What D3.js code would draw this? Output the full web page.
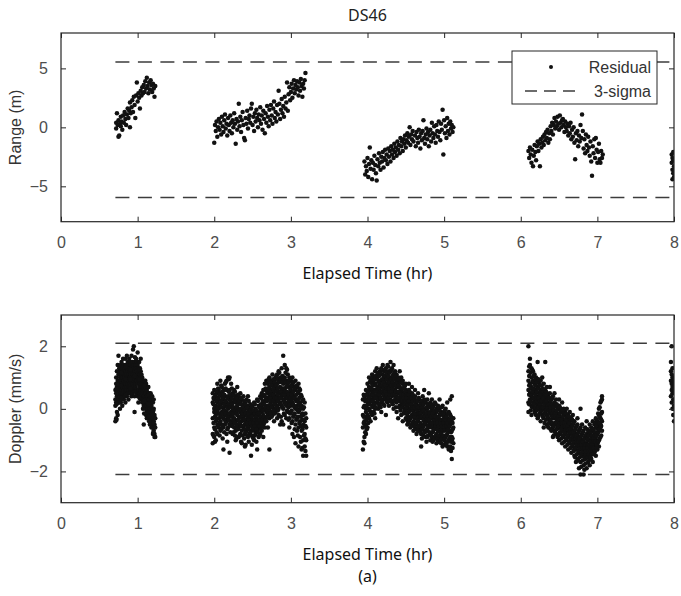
<!DOCTYPE html>
<html><head><meta charset="utf-8">
<script src="https://cdn.jsdelivr.net/npm/d3@7"></script>
<style>
html,body{margin:0;padding:0;background:#fff;}
svg{display:block;}
</style></head>
<body><svg id="chart" width="681" height="596"></svg>
<script>
// ---------------- DATA ----------------
const chartTitle = "DS46";
const xLabel = "Elapsed Time (hr)";
const rangeLabel = "Range (m)";
const dopplerLabel = "Doppler (mm/s)";
const figureTag = "(a)";
const xTicks = [0,1,2,3,4,5,6,7,8];
const rangeTicks = [-5,0,5];
const dopplerTicks = [-2,0,2];
const xDomain = [0,8];
const rangeDomain = [-8,8];
const dopplerDomain = [-3,3];
const legendLabels = ["Residual","3-sigma"];
// 3-sigma bounds: [start time, end time, upper, lower]
const rangeSigma = [0.71, 8, 5.55, -5.95];
const dopplerSigma = [0.71, 8, 2.1, -2.1];

// Range residuals: rows of [time (hr), value(s)...]
const rangePass1 = [[0.72,0.4,-0.1],[0.73,1.2],[0.74,0.2],[0.75,0.6,-0.8],[0.76,-0.7],[0.77,0.3],[0.78,0.9,0.1],[0.79,0.5],[0.80,-0.2],[0.81,1.0],[0.82,0.4],[0.83,1.3],[0.84,0.7],[0.85,0.2],[0.86,1.1],[0.87,1.6],[0.88,0.8],[0.89,1.4],[0.90,2.1,0.0],[0.91,1.2],[0.92,1.7],[0.93,2.3],[0.94,1.3],[0.95,2.6],[0.96,1.9],[0.97,0.8],[0.98,2.7],[0.99,3.8],[1.00,2.2],[1.01,2.9],[1.02,2.5],[1.03,1.6],[1.04,3.1],[1.05,2.7],[1.06,3.4],[1.07,2.9],[1.08,3.6],[1.09,3.0],[1.10,3.9],[1.11,3.3],[1.12,4.2],[1.13,3.5],[1.14,2.9],[1.15,3.8],[1.16,3.2],[1.17,4.0],[1.18,3.6],[1.19,3.0],[1.20,3.7],[1.21,3.3],[1.22,2.6],[1.23,3.5]];
const rangePass2 = [[2.00,-1.3],[2.01,0.2],[2.02,-0.3],[2.03,0.5],[2.04,-0.8],[2.05,0.0],[2.06,0.7],[2.07,-0.2],[2.08,0.4],[2.09,-0.6],[2.10,0.9],[2.11,0.1],[2.12,-0.4],[2.13,0.6],[2.14,1.1],[2.15,-0.1],[2.16,0.3],[2.17,-0.7],[2.18,0.8],[2.19,0.2],[2.20,-0.3],[2.21,1.0],[2.22,0.4],[2.23,-0.5],[2.24,0.6],[2.25,0.0],[2.26,1.2],[2.27,0.3],[2.28,-1.4],[2.29,0.7],[2.30,-0.2],[2.31,0.5],[2.32,2.0],[2.33,0.1],[2.34,0.9],[2.35,-0.4],[2.36,0.6],[2.37,1.3],[2.38,0.2],[2.39,-0.9],[2.40,-1.1],[2.41,0.8],[2.42,0.3],[2.43,1.4],[2.44,-0.1],[2.45,0.7],[2.46,1.0],[2.47,0.4],[2.48,1.6],[2.49,2.0],[2.50,0.2],[2.51,0.9],[2.52,-0.3],[2.53,1.2],[2.54,0.5],[2.55,1.5],[2.56,0.8],[2.57,0.0],[2.58,1.1],[2.59,0.6],[2.60,1.7],[2.61,0.3],[2.62,1.0],[2.63,-0.2],[2.64,1.4],[2.65,0.7],[2.66,-0.5],[2.67,1.2],[2.68,0.4],[2.69,1.8],[2.70,0.9],[2.71,0.1],[2.72,1.5],[2.73,0.6],[2.74,1.9],[2.75,1.0],[2.76,0.3],[2.77,1.6],[2.78,2.2],[2.79,0.8],[2.80,1.3],[2.81,0.5],[2.82,1.9],[2.83,1.1],[2.84,3.1],[2.85,2.0],[2.86,0.7],[2.87,1.5],[2.88,2.4],[2.89,1.2],[2.90,1.8],[2.91,0.9],[2.92,2.6],[2.93,1.6],[2.94,2.1],[2.95,3.8],[2.96,1.4],[2.97,2.8],[2.98,3.4],[2.99,2.3],[3.00,3.0],[3.01,3.7],[3.02,2.5],[3.03,3.3],[3.04,4.0],[3.05,2.9],[3.06,3.6],[3.07,3.2],[3.08,3.9],[3.09,3.4],[3.10,2.7],[3.11,3.8],[3.12,3.1],[3.13,4.1],[3.14,3.5],[3.15,2.6],[3.16,3.7],[3.17,3.3],[3.18,4.0],[3.19,4.6]];
const rangePass3 = [[3.96,-2.9],[3.97,-4.0],[3.98,-3.3],[3.99,-3.7],[4.00,-2.6],[4.01,-4.2],[4.02,-3.1],[4.03,-1.7],[4.04,-3.5],[4.05,-2.8],[4.06,-4.4],[4.07,-3.0],[4.08,-3.6],[4.09,-2.4],[4.10,-3.2],[4.11,-3.9],[4.12,-4.5],[4.13,-2.7],[4.14,-3.3],[4.15,-2.2],[4.16,-3.0],[4.17,-3.6],[4.18,-2.5],[4.19,-2.9],[4.20,-2.1],[4.21,-3.4],[4.22,-2.6],[4.23,-1.9],[4.24,-2.8],[4.25,-2.3],[4.26,-3.1],[4.27,-1.8],[4.28,-2.5],[4.29,-2.0],[4.30,-2.9],[4.31,-1.6],[4.32,-2.3],[4.33,-1.9],[4.34,-2.6],[4.35,-1.4],[4.36,-2.1],[4.37,-1.7],[4.38,-2.4],[4.39,-1.2],[4.40,-1.9],[4.41,-1.5],[4.42,-2.2],[4.43,-0.9],[4.44,-1.6],[4.45,-1.2],[4.46,-2.0],[4.47,-1.0],[4.48,-1.4],[4.49,-0.7],[4.50,-1.7],[4.51,-1.1],[4.52,-0.5],[4.53,-1.3],[4.54,-0.8],[4.55,0.0],[4.56,-1.5],[4.57,-0.6],[4.58,-1.0],[4.59,-0.3],[4.60,-1.2],[4.62,-0.7],[4.63,-1.6],[4.64,-0.4],[4.65,-0.9],[4.66,-1.3],[4.67,-0.2],[4.68,-0.8],[4.69,-1.8],[4.70,-0.5],[4.71,-1.1],[4.72,-0.3],[4.73,0.6],[4.74,-0.9],[4.75,-1.4],[4.76,-0.6],[4.77,-0.1],[4.78,-1.0],[4.79,-0.4],[4.80,-1.6],[4.81,-0.7],[4.82,-0.2],[4.83,-1.2],[4.84,0.4],[4.85,-0.5],[4.86,-0.9],[4.87,0.1],[4.88,-0.6],[4.89,-1.3],[4.90,0.2],[4.91,-0.3],[4.92,-0.8],[4.93,0.5],[4.94,-0.4],[4.95,-1.1],[4.96,0.3],[4.97,-0.2],[4.98,1.5],[4.99,-2.3],[5.00,0.6],[5.01,-0.5],[5.02,0.1],[5.03,-0.9],[5.04,0.8],[5.05,-0.3],[5.06,0.3],[5.07,-0.6],[5.08,0.5],[5.09,-0.1],[5.10,0.2],[5.11,-0.4],[5.12,0.0]];
const rangePass4 = [[6.10,-2.0],[6.11,-2.6],[6.12,-1.7],[6.13,-2.3],[6.14,-3.0],[6.15,-1.9],[6.16,-3.3],[6.17,-2.4],[6.18,-1.5],[6.19,-2.1],[6.20,-2.8],[6.21,-1.6],[6.22,-1.2],[6.23,-2.0],[6.24,-1.4],[6.25,-3.3],[6.26,-1.0],[6.27,-1.7],[6.28,-1.3],[6.29,-0.8],[6.30,-1.5],[6.31,-0.6],[6.32,-1.1],[6.33,-0.4],[6.34,-0.9],[6.35,-0.2],[6.36,-1.3],[6.37,-0.5],[6.38,-1.0],[6.39,0.1],[6.40,-0.3],[6.41,0.4],[6.42,-0.6],[6.43,0.2],[6.44,0.8],[6.45,-0.1],[6.46,0.5],[6.47,0.1],[6.48,0.9],[6.49,0.3],[6.50,-0.2],[6.51,1.0],[6.52,0.4],[6.53,0.0],[6.54,0.6],[6.55,0.7],[6.56,0.2],[6.57,-0.4],[6.58,0.5],[6.59,0.0],[6.60,-0.3],[6.61,0.3],[6.62,-0.7],[6.63,0.1],[6.64,-0.5],[6.65,0.4],[6.66,-1.0],[6.67,-0.2],[6.68,-0.8],[6.69,0.0],[6.70,-1.3],[6.71,-2.7],[6.72,-0.5],[6.73,-1.1],[6.74,-0.3],[6.75,-1.6],[6.76,-0.7],[6.77,-1.2],[6.78,0.2],[6.79,-0.9],[6.80,1.1],[6.81,-0.3],[6.82,-1.8],[6.83,-1.0],[6.84,-2.2],[6.85,-0.6],[6.86,-1.5],[6.87,-2.0],[6.88,-0.8],[6.89,-1.7],[6.90,-2.4],[6.91,-1.2],[6.92,-2.9],[6.93,-4.1],[6.94,-1.6],[6.95,-2.2],[6.96,-1.0],[6.97,-2.6],[6.98,-0.9],[6.99,-1.9],[7.00,-3.0],[7.01,-2.1],[7.02,-1.4],[7.03,-2.7],[7.04,-3.0],[7.05,-2.0],[7.06,-2.6],[7.07,-2.3]];
const rangePass5 = [[7.97,-2.3,-3.0],[7.98,-2.6,-3.6,-4.4],[7.99,-2.1,-3.9,-2.8],[8.00,-3.3,-4.2]];

// Doppler residuals: rows of [time (hr), values...]
const dopplerPass1 = [[0.71,0.3,-0.4,0.6,0.1],[0.72,0.5,-0.3,0.8,0.2,1.0],[0.73,0.4,0.7,-0.1,1.2],[0.74,0.6,0.2,0.9,-0.2,1.4],[0.75,0.8,0.3,1.1,1.7,0.5],[0.76,0.2,0.9,0.6,1.3],[0.77,0.7,1.0,0.4,0.0,1.2],[0.78,0.9,0.5,1.4,0.2],[0.79,0.6,1.1,0.3,0.8,1.5],[0.80,1.0,0.4,0.7,1.3,0.1],[0.81,0.8,1.2,0.5,1.6],[0.82,0.3,0.9,1.1,0.6,1.4],[0.83,1.0,0.7,1.3,0.4],[0.84,0.5,1.2,0.8,1.6,0.2],[0.85,0.9,1.4,0.6,1.1],[0.86,1.3,0.7,1.0,0.4,1.7],[0.87,0.8,1.2,0.5,1.5],[0.88,1.1,0.6,1.4,0.9,0.3],[0.89,0.7,1.3,1.0,1.6],[0.90,1.2,0.8,0.5,1.5,1.0],[0.91,0.9,1.4,0.6,1.1],[0.92,1.3,0.4,1.0,1.7,0.7],[0.93,0.8,1.2,1.5,0.5],[0.94,1.1,0.7,1.4,0.9,1.9],[0.95,0.6,1.3,1.0,2.0],[0.96,1.2,0.9,1.5,0.4,-0.1],[0.97,0.7,1.1,1.4,0.8],[0.98,1.0,0.6,1.3,1.6,0.9],[0.99,1.2,0.5,0.9,1.5],[1.00,0.8,1.1,0.4,1.4,1.8],[1.01,1.0,0.6,1.3,0.2],[1.02,0.7,1.2,0.9,0.4,1.5],[1.03,1.1,0.5,0.8,1.3],[1.04,0.6,1.0,0.3,1.2,1.6],[1.05,0.9,0.4,0.7,1.1],[1.06,0.5,0.8,0.2,1.0,0.6],[1.07,0.7,0.3,0.9,0.0],[1.08,0.4,0.8,0.1,0.6,-0.5],[1.09,0.6,0.2,0.9,0.4],[1.10,0.3,0.7,0.0,0.5,0.9],[1.11,0.5,0.1,0.8,-0.2],[1.12,0.2,0.6,-0.1,0.4,-0.3],[1.13,0.4,0.0,0.7,0.2],[1.14,0.1,0.5,-0.3,0.3,0.7],[1.15,0.3,-0.1,0.5,-0.4],[1.16,0.0,0.4,-0.2,0.2,-0.5],[1.17,0.2,-0.3,0.5,-0.1],[1.18,-0.1,0.3,-0.4,0.1,-0.6],[1.19,0.0,-0.5,0.4,-0.2],[1.20,-0.3,0.2,-0.6,-0.1,-0.8],[1.21,-0.4,0.0,-0.7,0.3],[1.22,-0.5,-0.2,-0.8,-0.9],[1.23,-0.6,-0.3,-0.9],
  [0.725,0.15,0.65,-0.35],[0.785,0.35,1.15,0.75],[0.845,0.95,0.45,1.35],[0.905,0.65,1.25,0.95],[0.965,1.05,0.55,1.65],[1.025,0.95,0.35,1.25],[1.085,0.25,0.75,-0.15],[1.145,0.15,-0.25,0.45],[1.205,-0.45,-0.05,-0.75]];
const dopplerPass2 = [[1.98,-0.3,0.2,-0.8,-1.1,0.5],[2.00,-0.1,-0.6,0.3,-0.9,0.0,0.6],[2.02,-0.4,0.1,-0.2,0.4,-1.0],[2.04,0.2,-0.5,-0.1,0.5,-0.8,0.8],[2.06,-0.3,0.3,-0.6,0.0,0.6],[2.08,0.1,-0.4,0.5,-0.2,-0.7,0.9],[2.10,-0.1,0.4,-0.5,0.2,0.7],[2.12,0.0,-0.3,0.6,-1.3,0.3,-0.6],[2.14,0.4,-0.2,0.1,0.8,-0.5],[2.16,-0.4,0.2,0.6,-0.1,0.9,-0.8],[2.18,0.0,1.0,-0.3,0.4,-0.6],[2.20,0.3,-0.2,-1.4,0.6,-0.5,1.0],[2.22,-0.1,0.4,-0.4,0.1,0.8],[2.24,0.2,-0.5,0.5,-0.2,-0.8,0.0],[2.26,-0.3,0.3,-0.1,0.6,-0.6],[2.28,0.0,-0.4,0.4,-0.7,0.2,-1.0],[2.30,-0.2,0.3,-0.5,0.1,0.7],[2.32,-0.6,0.0,-0.3,0.4,-0.9,0.2],[2.34,-0.1,-0.5,0.2,-0.8,0.5],[2.36,-0.4,0.0,-0.7,0.3,-0.2,-1.1],[2.38,-0.3,0.1,-0.6,-0.1,0.4],[2.40,-0.5,-0.2,0.2,-0.8,0.0,-1.2],[2.42,-0.4,0.1,-0.7,-0.2,0.3],[2.44,-0.6,-0.3,0.0,-0.9,-0.1,0.4],[2.46,-0.5,-0.2,-0.8,0.1,-0.4],[2.48,-0.3,-0.7,0.0,-0.5,-1.5,-0.1],[2.50,-0.6,-0.2,-0.9,0.1,-0.4],[2.52,-0.4,-0.7,-0.1,-0.5,0.2,-1.0],[2.54,-0.3,-0.6,0.0,-0.8,-0.2],[2.56,-0.5,-0.1,-0.7,0.3,-0.4,-1.3],[2.58,-0.2,-0.6,0.1,-0.4,-0.9],[2.60,-0.3,0.0,-0.6,0.4,-0.1,-0.8],[2.62,0.1,-0.4,-0.1,0.5,-0.7],[2.64,-0.2,0.2,-0.5,0.6,0.0,-0.9],[2.66,0.0,-0.3,0.4,-0.6,0.8],[2.68,0.3,-0.1,0.6,-0.4,0.1,0.9],[2.70,0.1,0.5,-0.2,0.8,-0.6],[2.72,0.4,0.0,0.7,-0.3,1.0,-1.3],[2.74,0.2,0.6,-0.1,0.9,0.3],[2.76,0.5,0.1,0.8,-0.2,0.4,1.1],[2.78,0.3,0.7,0.0,0.9,-0.4],[2.80,0.6,0.2,1.0,-0.1,0.4,0.8],[2.82,0.4,0.8,0.1,1.1,-0.3],[2.84,0.5,0.0,0.9,0.3,1.2,-0.2],[2.86,0.7,0.2,1.0,-0.5,0.5],[2.88,0.4,0.9,0.1,1.3,0.6,-0.4],[2.90,0.3,0.8,1.7,0.0,0.5,-0.5],[2.92,0.6,0.2,1.0,-0.2,1.4],[2.94,0.4,0.9,0.1,0.7,1.3,-0.3],[2.96,0.5,-0.1,0.8,0.2,1.1],[2.98,0.3,0.7,-0.3,1.0,0.5,-0.6],[3.00,0.6,0.1,0.9,-0.1,0.4],[3.02,0.2,0.8,-0.4,0.5,1.0,-0.8],[3.04,0.4,-0.2,0.7,0.1,-0.9],[3.06,0.0,0.6,-0.5,0.3,0.9,-1.1],[3.08,0.3,-0.3,0.7,0.1,-0.7],[3.10,-0.1,0.5,-0.6,0.2,0.8,-1.2],[3.12,0.2,-0.4,0.6,-0.9,0.0],[3.14,-0.2,0.4,-0.7,0.1,-1.3],[3.16,0.0,-0.5,0.3,-1.0,-0.2,-1.5],[3.18,-0.4,0.2,-0.8,-1.2],[3.20,-0.6,-1.0,-1.5,-0.3],
  [1.99,-0.45,0.15,-0.85,0.35],[2.01,-0.25,0.45,-0.65,0.05,-1.05],[2.03,0.25,-0.35,0.55,-0.75,-0.05],[2.05,-0.15,0.35,-0.55,0.65,0.05],[2.07,0.15,-0.45,0.45,-0.85,-0.15],[2.09,-0.25,0.25,-0.65,0.75,0.05],[2.11,0.35,-0.15,-0.55,0.55,-0.95],[2.13,-0.05,0.45,-0.35,0.15,-0.75],[2.15,0.25,-0.45,0.65,-0.15,0.85],[2.17,-0.25,0.35,-0.65,0.05,-1.05],[2.19,0.15,-0.35,0.55,-0.15,0.95],[2.21,-0.45,0.05,0.45,-0.75,0.25],[2.23,0.35,-0.25,-0.55,0.15,0.65],[2.25,-0.35,0.05,-0.75,0.45,-0.15],[2.27,0.25,-0.45,-0.05,-0.85,0.55],[2.29,-0.15,0.35,-0.55,0.05,-0.95],[2.31,-0.35,0.15,-0.65,0.45,-0.05],[2.33,-0.45,-0.05,0.25,-0.85,-0.25],[2.35,-0.25,0.15,-0.55,-1.05,0.35],[2.37,-0.55,-0.15,0.05,-0.85,-0.35],[2.39,-0.35,0.25,-0.65,-0.05,-0.95],[2.41,-0.45,-0.15,0.15,-0.75,-1.15],[2.43,-0.55,-0.25,0.05,-0.85,-0.45],[2.45,-0.35,-0.65,0.25,-0.15,-1.05],[2.47,-0.45,-0.05,-0.75,-0.25,0.15],[2.49,-0.55,-0.25,-0.85,0.05,-1.15],[2.51,-0.35,-0.65,-0.05,-0.45,-0.95],[2.53,-0.55,-0.15,-0.85,0.15,-0.35],[2.55,-0.25,-0.65,-0.05,-0.45,-1.05],[2.57,-0.45,-0.15,-0.75,0.25,-0.35],[2.59,-0.15,-0.55,0.05,-0.35,-0.85],[2.61,-0.25,0.15,-0.45,0.35,-0.65],[2.63,-0.05,-0.35,0.25,-0.55,0.45],[2.65,0.15,-0.25,0.45,-0.45,-0.05],[2.67,0.05,0.35,-0.35,0.65,0.25],[2.69,0.25,-0.05,0.55,-0.25,0.85],[2.71,0.35,0.05,0.65,-0.15,0.95],[2.73,0.15,0.55,-0.15,0.85,0.35],[2.75,0.45,0.05,0.75,0.25,-0.25],[2.77,0.25,0.65,-0.05,0.95,0.45],[2.79,0.55,0.15,0.85,0.35,-0.15],[2.81,0.35,0.75,0.05,1.05,0.55],[2.83,0.65,0.25,0.95,-0.05,0.45],[2.85,0.35,0.85,0.15,1.15,0.55],[2.87,0.55,0.15,0.95,0.35,-0.25],[2.89,0.45,0.85,0.05,1.05,0.65],[2.91,0.25,0.65,-0.15,0.95,0.45],[2.93,0.55,0.15,0.85,0.35,1.15],[2.95,0.35,0.75,-0.05,0.55,1.25],[2.97,0.45,0.05,0.85,0.25,-0.35],[2.99,0.15,0.65,0.35,0.95,-0.15],[3.01,0.45,-0.05,0.75,0.25,-0.45],[3.03,0.15,0.55,-0.25,0.85,0.35],[3.05,0.35,-0.15,0.65,0.05,-0.65],[3.07,0.05,0.45,-0.35,0.75,0.25],[3.09,0.25,-0.25,0.55,-0.05,-0.85],[3.11,-0.05,0.35,-0.45,0.15,0.65],[3.13,0.05,-0.55,0.45,-0.25,-1.05],[3.15,-0.15,0.25,-0.65,-0.35,-1.25],[3.17,-0.35,0.05,-0.85,-0.55],[3.19,-0.55,-0.95,-0.15,-1.35]];
const dopplerPass3 = [[3.94,-0.6,-1.3,-0.2,0.3],[3.96,-0.4,0.1,-0.9,0.4,-1.1],[3.98,-0.1,0.3,-0.5,0.6,-0.8,0.0],[4.00,0.2,-0.2,0.5,-0.6,0.8],[4.02,0.0,0.4,-0.3,0.7,0.2,1.0],[4.04,0.3,-0.1,0.6,0.9,-0.4],[4.06,0.5,0.1,0.8,-0.2,1.1,0.3],[4.08,0.2,0.6,-0.1,0.9,0.4],[4.10,0.4,0.8,0.0,1.2,0.6,-0.3],[4.12,0.6,0.2,1.0,0.4,1.3],[4.14,0.3,0.7,1.1,0.0,0.5,0.9],[4.16,0.8,0.4,1.2,0.1,0.6],[4.18,0.5,0.9,0.2,1.3,0.7,-0.1],[4.20,0.7,0.3,1.1,0.5,1.4],[4.22,0.4,0.9,0.1,1.2,0.6,1.0],[4.24,0.8,0.3,1.3,0.5,-0.2],[4.26,0.6,1.0,0.2,1.4,0.8,0.4],[4.28,0.9,0.5,1.2,0.1,0.7],[4.30,0.6,1.0,0.3,1.5,0.8,1.2],[4.32,0.4,0.9,1.3,0.2,0.7],[4.34,0.8,0.5,1.1,0.0,1.4,0.6],[4.36,0.6,1.0,0.3,0.8,1.2],[4.38,0.4,0.9,-0.1,0.7,1.1,0.2],[4.40,0.7,0.3,1.0,0.5,-0.3],[4.42,0.5,0.9,0.1,0.7,1.2,0.3],[4.44,0.2,0.6,1.0,-0.2,0.4],[4.46,0.5,0.1,0.8,0.3,-0.4,0.9],[4.48,0.3,0.7,-0.1,0.5,0.0],[4.50,0.4,0.0,0.6,-0.3,0.2,0.8],[4.52,0.1,0.5,-0.2,0.3,-0.5],[4.54,0.3,-0.1,0.6,0.0,-0.4,0.8],[4.56,0.0,0.4,-0.3,0.2,-0.6],[4.58,0.2,-0.2,0.5,-0.5,0.0,0.7],[4.60,-0.1,0.3,-0.4,0.1,-0.7],[4.62,0.1,-0.3,0.4,-0.6,0.0,0.6],[4.64,-0.2,0.2,-0.5,0.0,-0.8],[4.66,0.0,-0.4,0.3,-0.1,-0.7,0.5],[4.68,-0.3,0.1,-0.6,0.3,-0.2],[4.70,-0.1,-0.5,0.2,-0.8,0.0,-1.2],[4.72,-0.3,0.1,-0.6,-0.1,0.4],[4.74,0.0,-0.4,0.3,-0.7,-0.2,0.6],[4.76,-0.2,0.2,-0.5,-0.9,0.0],[4.78,-0.4,0.0,-0.7,0.3,-0.1,-0.9],[4.80,-0.2,-0.6,0.1,-0.4,0.5],[4.82,-0.5,-0.1,-0.8,0.2,-0.3,-1.0],[4.84,-0.3,0.0,-0.6,-0.9,0.3],[4.86,-0.4,-0.1,-0.7,0.1,-0.5,-1.0],[4.88,-0.2,-0.6,0.2,-0.9,-0.3],[4.90,-0.5,-0.1,-0.8,0.0,-0.4,-1.1],[4.92,-0.3,-0.7,0.1,-0.5,-1.0],[4.94,-0.6,-0.2,-0.9,0.0,-0.4,0.3],[4.96,-0.4,-0.8,-0.1,-0.6,-1.1],[4.98,-0.5,-0.2,-0.9,0.1,-0.7,-1.2],[5.00,-0.3,-0.7,-0.1,-1.0,-0.5],[5.02,-0.6,-0.2,-0.9,0.0,-0.4,-1.1],[5.04,-0.5,-0.8,-0.3,-1.2,0.2],[5.06,-0.7,-0.4,-1.0,-0.1,-0.6,-1.3],[5.08,-0.5,-0.9,-0.2,-1.2,0.3],[5.10,-0.7,-1.0,-0.4,-1.6,0.4,-0.9],[5.12,-0.6,-1.1,-0.3],
  [3.95,-0.45,-1.05,0.05,-0.25,0.45],[3.97,-0.25,0.25,-0.75,0.05,-0.55],[3.99,0.05,-0.35,0.45,-0.65,0.25],[4.01,0.15,0.55,-0.25,0.35,-0.45],[4.03,0.35,-0.05,0.65,0.15,0.85],[4.05,0.25,0.65,-0.15,0.45,0.95],[4.07,0.45,0.05,0.75,0.25,1.05],[4.09,0.55,0.15,0.95,0.35,-0.15],[4.11,0.35,0.75,0.05,1.05,0.55],[4.13,0.65,0.25,0.95,0.45,1.15],[4.15,0.45,0.85,0.15,1.05,0.65],[4.17,0.75,0.35,1.15,0.55,0.05],[4.19,0.55,0.95,0.25,1.25,0.75],[4.21,0.85,0.45,1.05,0.15,0.65],[4.23,0.55,1.05,0.35,1.25,0.75],[4.25,0.95,0.45,1.15,0.25,0.65],[4.27,0.65,1.05,0.35,1.35,0.85],[4.29,0.85,0.45,1.15,0.25,0.65],[4.31,0.55,0.95,0.25,1.25,0.75],[4.33,0.85,0.45,1.05,0.15,0.65],[4.35,0.45,0.95,0.25,1.15,0.75],[4.37,0.75,0.35,1.05,0.55,0.05],[4.39,0.55,0.85,0.25,0.95,0.35],[4.41,0.35,0.75,0.05,0.95,0.55],[4.43,0.65,0.25,0.85,0.45,-0.05],[4.45,0.35,0.65,0.05,0.85,0.25],[4.47,0.45,0.15,0.65,-0.15,0.35],[4.49,0.25,0.55,-0.05,0.75,0.15],[4.51,0.35,-0.15,0.45,0.05,-0.35],[4.53,0.15,0.45,-0.25,0.25,-0.45],[4.55,0.25,-0.05,0.35,-0.35,0.55],[4.57,0.05,0.35,-0.25,0.15,-0.55],[4.59,-0.05,0.25,-0.45,0.05,0.45],[4.61,0.05,-0.25,0.35,-0.55,-0.15],[4.63,-0.15,0.15,-0.45,0.25,-0.65],[4.65,-0.05,-0.35,0.25,-0.65,0.05],[4.67,-0.25,0.05,-0.55,0.35,-0.15],[4.69,-0.15,-0.45,0.15,-0.75,-0.25],[4.71,-0.25,0.05,-0.65,0.25,-0.95],[4.73,-0.35,-0.05,-0.55,0.15,-0.85],[4.75,-0.15,-0.45,0.25,-0.75,-0.25],[4.77,-0.35,0.05,-0.65,-0.15,-1.05],[4.79,-0.25,-0.55,0.15,-0.85,-0.35],[4.81,-0.45,-0.15,-0.75,0.05,-0.35],[4.83,-0.25,-0.55,0.15,-0.85,-0.45],[4.85,-0.45,-0.15,-0.75,0.05,-1.05],[4.87,-0.35,-0.65,-0.05,-0.95,-0.25],[4.89,-0.55,-0.25,-0.85,0.15,-0.45],[4.91,-0.35,-0.65,-0.05,-0.95,-0.45],[4.93,-0.55,-0.25,-0.85,0.05,-1.05],[4.95,-0.45,-0.75,-0.15,-1.05,-0.35],[4.97,-0.65,-0.35,-0.95,0.05,-0.55],[4.99,-0.45,-0.85,-0.15,-1.15,-0.35],[5.01,-0.65,-0.35,-0.95,-0.05,-0.55],[5.03,-0.55,-0.85,-0.25,-1.15,-0.45],[5.05,-0.75,-0.45,-1.05,-0.15,-0.65],[5.07,-0.55,-0.95,-0.35,-1.25,-0.15],[5.09,-0.75,-1.05,-0.45,-1.35,-0.25],[5.11,-0.65,-0.95,-0.45,-1.25]];
const dopplerPass4 = [[6.10,0.6,1.2,0.2,2.0,0.9,-0.1],[6.12,0.8,0.3,1.4,0.5,1.6],[6.14,0.4,1.0,0.1,0.7,1.3,-0.2],[6.16,0.9,0.5,1.2,0.2,0.6],[6.18,0.3,0.8,-0.1,1.1,0.5,0.0],[6.20,0.6,0.2,1.0,-0.2,0.4],[6.22,0.7,0.1,0.9,0.3,-0.3,1.5],[6.24,0.4,0.8,0.0,0.5,0.2],[6.26,0.6,-0.1,0.3,0.9,-0.4,0.1],[6.28,0.2,0.6,-0.2,0.4,1.0],[6.30,0.5,0.0,0.3,-0.3,0.8,-0.6],[6.32,0.1,0.4,1.5,-0.1,0.6],[6.34,0.3,-0.2,0.5,0.0,-0.5,0.7],[6.36,0.0,0.4,-0.3,0.2,-0.6],[6.38,0.2,-0.1,0.5,-0.4,0.0,0.7],[6.40,-0.2,0.1,-0.5,0.3,-0.7],[6.42,0.0,-0.3,0.4,-0.6,0.1,-0.9],[6.44,-0.3,0.2,-0.1,-0.7,0.5],[6.46,-0.1,-0.5,0.1,-0.8,-0.3,0.3],[6.48,-0.4,0.0,-0.6,-0.2,-0.9],[6.50,-0.2,-0.6,0.1,-0.4,-1.0,0.3],[6.52,-0.5,-0.1,-0.8,-0.3,0.0],[6.54,-0.3,-0.7,-0.1,-1.1,-0.5,0.2],[6.56,-0.6,-0.2,-0.9,-0.4,0.0],[6.58,-0.4,-0.8,-0.1,-1.2,-0.6,-0.2],[6.60,-0.7,-0.3,-1.0,-0.5,0.0],[6.62,-0.5,-0.9,-0.2,-1.3,-0.7,-0.4],[6.64,-0.8,-0.4,-1.1,-0.6,-0.1],[6.66,-0.6,-1.0,-0.3,-1.4,-0.8,-0.5],[6.68,-0.9,-0.5,-1.2,-0.7,-0.2],[6.70,-0.7,-1.1,-0.4,-1.5,-0.9,-1.3],[6.72,-1.0,-0.6,-1.3,-0.8,-1.7],[6.74,-0.8,-1.2,-0.5,-1.6,-1.0,-0.3],[6.76,-1.1,-0.7,-1.4,-0.9,-1.9],[6.78,-0.9,0.0,-1.3,-0.6,-1.7,-2.1],[6.80,-1.2,-0.8,-1.5,-1.0,-0.5],[6.82,-1.0,-1.4,-0.7,-1.8,-1.2,-2.1],[6.84,-1.3,-0.9,-1.6,-0.6,-1.1],[6.86,-1.1,-1.5,-0.8,-1.9,-1.3,-0.4],[6.88,-1.4,-1.0,-1.7,-0.7,-1.2],[6.90,-1.2,-0.8,-1.5,-1.0,-1.8,-0.5],[6.92,-1.3,-0.9,-1.6,-0.6,-1.1],[6.94,-1.0,-1.4,-0.7,-1.2,-0.4,-1.7],[6.96,-1.1,-0.8,-1.4,-0.5,-0.9],[6.98,-0.9,-0.6,-1.2,-0.3,-1.0,-1.5],[7.00,-0.8,-0.4,-1.1,-0.6,-1.3],[7.02,-0.7,-0.2,-1.0,-0.5,0.0,-1.2],[7.04,-0.6,-0.3,-0.9,0.2,-0.5],[7.06,-0.4,0.4,-0.7,-0.1,0.3],
  [6.11,0.45,1.05,0.15,0.75,1.35],[6.13,0.65,0.25,1.15,0.45,-0.05],[6.15,0.35,0.85,0.05,1.25,0.55],[6.17,0.65,0.15,1.05,0.35,0.85],[6.19,0.45,0.05,0.75,-0.15,0.95],[6.21,0.55,0.25,0.85,-0.05,0.35],[6.23,0.35,0.65,0.05,0.95,-0.25],[6.25,0.45,0.15,0.75,-0.15,0.25],[6.27,0.25,0.55,-0.05,0.75,0.05],[6.29,0.35,0.05,0.55,-0.25,0.65],[6.31,0.15,0.45,-0.15,0.25,-0.45],[6.33,0.25,-0.05,0.45,-0.35,0.55],[6.35,0.05,0.35,-0.25,0.15,-0.55],[6.37,0.15,-0.15,0.35,-0.45,-0.05],[6.39,-0.05,0.25,-0.35,0.05,-0.65],[6.41,-0.15,0.15,-0.45,0.35,-0.25],[6.43,-0.25,0.05,-0.55,-0.05,-0.85],[6.45,-0.15,-0.45,0.15,-0.75,-0.25],[6.47,-0.35,-0.05,-0.65,0.15,-0.45],[6.49,-0.25,-0.55,0.05,-0.85,-0.35],[6.51,-0.45,-0.15,-0.75,-0.35,0.05],[6.53,-0.35,-0.65,-0.05,-0.95,-0.45],[6.55,-0.55,-0.25,-0.85,-0.45,-0.05],[6.57,-0.45,-0.75,-0.15,-1.05,-0.55],[6.59,-0.65,-0.35,-0.95,-0.55,-0.15],[6.61,-0.55,-0.85,-0.25,-1.15,-0.65],[6.63,-0.75,-0.45,-1.05,-0.65,-0.25],[6.65,-0.65,-0.95,-0.35,-1.25,-0.75],[6.67,-0.85,-0.55,-1.15,-0.75,-0.35],[6.69,-0.75,-1.05,-0.45,-1.35,-0.95],[6.71,-0.95,-0.65,-1.25,-0.85,-1.55],[6.73,-0.85,-1.15,-0.55,-1.45,-1.05],[6.75,-1.05,-0.75,-1.35,-0.95,-1.65],[6.77,-0.95,-1.25,-0.65,-1.55,-1.15],[6.79,-1.15,-0.85,-1.45,-1.05,-1.85],[6.81,-1.05,-1.35,-0.75,-1.65,-1.25],[6.83,-1.25,-0.95,-1.55,-1.15,-1.95],[6.85,-1.15,-1.45,-0.85,-1.75,-1.35],[6.87,-1.25,-0.95,-1.55,-1.15,-0.65],[6.89,-1.15,-1.45,-0.85,-1.65,-1.35],[6.91,-1.05,-1.35,-0.75,-1.55,-1.25],[6.93,-1.15,-0.85,-1.45,-0.65,-1.25],[6.95,-0.95,-1.25,-0.65,-1.45,-1.05],[6.97,-1.05,-0.75,-1.35,-0.45,-0.85],[6.99,-0.85,-0.55,-1.15,-0.35,-1.25],[7.01,-0.75,-0.45,-1.05,-0.15,-0.65],[7.03,-0.65,-0.25,-0.95,0.05,-0.45],[7.05,-0.55,-0.15,-0.85,0.25,-0.35]];
const dopplerPass5 = [[7.96,1.5,0.9,0.4,1.2],[7.97,2.0,1.1,0.6,0.2,0.8],[7.98,1.0,0.5,0.0,0.7,1.3],[7.99,0.8,0.3,-0.2,0.6,1.0],[8.00,0.5,0.1,-0.4,0.9]];

// ---------------- DRAW ----------------
const svg = d3.select("#chart");
const axisColor = "#262626";
const tickTextColor = "#4d4d4d";
const dotColor = "#111";
const sigmaColor = "#3c3c3c";

const flatten = rows => rows.flatMap(r => r.slice(1).map(v => ({t: r[0], v})));
const rangePts = [rangePass1, rangePass2, rangePass3, rangePass4, rangePass5].flatMap(flatten);
const dopplerPts = [dopplerPass1, dopplerPass2, dopplerPass3, dopplerPass4, dopplerPass5].flatMap(flatten);

const left = 61, right = 674;
const x = d3.scaleLinear().domain(xDomain).range([left, right]);

function panel(top, bottom, yDomain, yTicks, pts, sigma, yLabel, withLegend) {
  const y = d3.scaleLinear().domain(yDomain).range([bottom, top]);
  const g = svg.append("g");
  const clipId = "clip" + Math.round(top);
  svg.append("clipPath").attr("id", clipId).append("rect")
    .attr("x", left).attr("y", top).attr("width", right - left).attr("height", bottom - top);

  const sg = g.append("g").attr("clip-path", `url(#${clipId})`);
  [sigma[2], sigma[3]].forEach(val => {
    sg.append("line")
      .attr("x1", x(sigma[0])).attr("x2", x(sigma[1]))
      .attr("y1", y(val)).attr("y2", y(val))
      .attr("stroke", sigmaColor).attr("stroke-width", 1.5)
      .attr("stroke-dasharray", "14,8.5");
  });

  sg.append("g").selectAll("circle").data(pts).join("circle")
    .attr("cx", d => x(d.t)).attr("cy", d => y(d.v))
    .attr("r", 2.25).attr("fill", dotColor);

  const styleAxis = (sel, showLabels) => {
    sel.select(".domain").remove();
    sel.selectAll(".tick line").attr("stroke", axisColor);
    sel.selectAll(".tick text").attr("fill", tickTextColor)
      .style("font-family", "'Liberation Sans', Arial, sans-serif").style("font-size", "16px");
    if (!showLabels) sel.selectAll(".tick text").remove();
  };
  g.append("g").attr("transform", `translate(0,${bottom})`)
    .call(d3.axisBottom(x).tickValues(xTicks).tickSizeInner(-5).tickSizeOuter(0).tickPadding(15).tickFormat(d3.format("d")))
    .call(s => styleAxis(s, true));
  g.append("g").attr("transform", `translate(0,${top})`)
    .call(d3.axisTop(x).tickValues(xTicks).tickSizeInner(-5).tickSizeOuter(0))
    .call(s => styleAxis(s, false));
  g.append("g").attr("transform", `translate(${left},0)`)
    .call(d3.axisLeft(y).tickValues(yTicks).tickSizeInner(-5).tickSizeOuter(0).tickPadding(13).tickFormat(d3.format("d")))
    .call(s => styleAxis(s, true));
  g.append("g").attr("transform", `translate(${right},0)`)
    .call(d3.axisRight(y).tickValues(yTicks).tickSizeInner(-5).tickSizeOuter(0))
    .call(s => styleAxis(s, false));

  g.append("rect").attr("x", left).attr("y", top).attr("width", right - left).attr("height", bottom - top)
    .attr("fill", "none").attr("stroke", axisColor).attr("stroke-width", 1.2);

  g.append("text").attr("x", (left + right) / 2).attr("y", bottom + 57)
    .attr("text-anchor", "middle").attr("fill", "#111")
    .style("font-family", "'Noto Sans', 'Open Sans', sans-serif").style("font-size", "16px")
    .text(xLabel);
  g.append("text").attr("transform", `translate(21,${(top + bottom) / 2}) rotate(-90)`)
    .attr("text-anchor", "middle").attr("fill", "#333")
    .style("font-family", "'Liberation Sans', Arial, sans-serif").style("font-size", "16px")
    .text(yLabel);

  if (withLegend) {
    const lg = g.append("g");
    lg.append("rect").attr("x", 512).attr("y", 51).attr("width", 145).attr("height", 53)
      .attr("fill", "#fff").attr("stroke", axisColor).attr("stroke-width", 1);
    lg.append("circle").attr("cx", 551).attr("cy", 67).attr("r", 2).attr("fill", dotColor);
    lg.append("line").attr("x1", 525).attr("x2", 580).attr("y1", 91).attr("y2", 91)
      .attr("stroke", sigmaColor).attr("stroke-width", 1.5).attr("stroke-dasharray", "12,7");
    legendLabels.forEach((lab, i) => {
      lg.append("text").attr("x", 651).attr("y", 67 + i * 24).attr("dy", "0.35em")
        .attr("text-anchor", "end").attr("fill", "#333")
        .style("font-family", "'Liberation Sans', Arial, sans-serif").style("font-size", "16px")
        .text(lab);
    });
  }
  return y;
}

panel(33, 221.7, rangeDomain, rangeTicks, rangePts, rangeSigma, rangeLabel, true);
panel(315, 502.7, dopplerDomain, dopplerTicks, dopplerPts, dopplerSigma, dopplerLabel, false);

svg.append("text").attr("x", (left + right) / 2).attr("y", 21)
  .attr("text-anchor", "middle").attr("fill", "#222")
  .style("font-family", "'Noto Sans', 'Open Sans', sans-serif").style("font-size", "16px")
  .text(chartTitle);
svg.append("text").attr("x", (left + right) / 2).attr("y", 582)
  .attr("text-anchor", "middle").attr("fill", "#111")
  .style("font-family", "'Noto Sans', 'Open Sans', sans-serif").style("font-size", "16px")
  .text(figureTag);
</script>
</body></html>
